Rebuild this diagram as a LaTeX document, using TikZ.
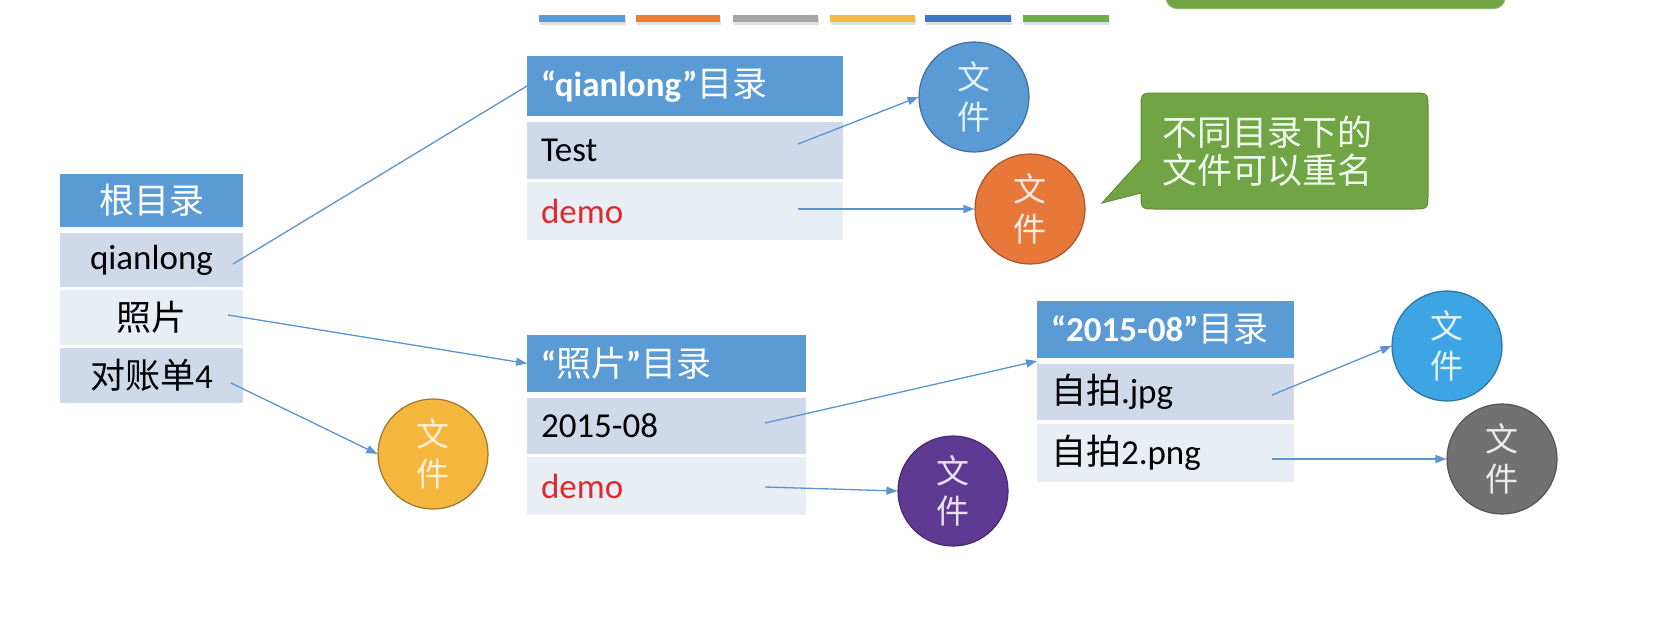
\documentclass[tikz,border=0pt]{standalone}
\usepackage{fontspec}
\setmainfont{Carlito}
\newfontfamily\cjk{Noto Sans CJK SC}
\usetikzlibrary{arrows.meta}
\definecolor{hdr}{HTML}{5B9BD5}
\definecolor{banda}{HTML}{CFD9EA}
\definecolor{bandb}{HTML}{E9EDF4}
\definecolor{conn}{HTML}{5B94CF}
\definecolor{demored}{HTML}{DE2A2E}
\definecolor{cblue}{HTML}{5B9BD5}
\definecolor{corange}{HTML}{E8773A}
\definecolor{cyellow}{HTML}{F5B63E}
\definecolor{cpurple}{HTML}{5F3A93}
\definecolor{clight}{HTML}{3DA5E4}
\definecolor{cgray}{HTML}{717171}
\definecolor{cgreen}{HTML}{70A445}
\definecolor{bar1}{HTML}{5B9BD5}
\definecolor{bar2}{HTML}{ED7D31}
\definecolor{bar3}{HTML}{A5A5A5}
\definecolor{bar4}{HTML}{F7B942}
\definecolor{bar5}{HTML}{4472C4}
\definecolor{bar6}{HTML}{70AD47}
\tikzset{
  every node/.style={font=\fontsize{35}{42}\selectfont},
  cellbox/.style={anchor=north west, inner sep=0pt, outer sep=0pt},
  hdrcell/.style={cellbox, fill=hdr, text=white, font=\fontsize{35}{42}\selectfont\bfseries},
  cella/.style={cellbox, fill=banda, text=black},
  cellb/.style={cellbox, fill=bandb, text=black},
  lefttext/.style={inner xsep=14pt, align=left},
  filec/.style={circle, minimum size=110pt, inner sep=0pt, line width=1.2pt, align=center,
    font=\cjk\fontsize{33}{40}\selectfont},
  conn/.style={draw=conn, line width=1.3pt},
  arr/.style={conn, -{Triangle[length=11pt,width=8pt]}},
}
\begin{document}
\begin{tikzpicture}[x=1pt,y=-1pt]
\useasboundingbox (0,0) rectangle (1653,635);
\fill[white] (0,0) rectangle (1653,635);
% top colour bars
\foreach \xa/\xb/\c in {539/625/bar1,636/720/bar2,733/818/bar3,830/915/bar4,925/1011/bar5,1023/1109/bar6}{
  \fill[black!12] (\xa+1,17) rectangle (\xb+1,25);
  \fill[\c] (\xa,15) rectangle (\xb,22);
}
% clipped green box at the top
\fill[cgreen, rounded corners=11pt] (1166,-40) rectangle (1505,8.5);
\draw[cgreen!80!white, line width=1pt, rounded corners=11pt] (1166,-40) rectangle (1505,8.5);

% root table
\node[hdrcell, minimum width=183pt, minimum height=53pt, font=\cjk\fontsize{35}{42}\selectfont] (hr) at (60,174) {根目录};
\node[cella, minimum width=183pt, minimum height=54pt] (rq) at (60,233) {qianlong};
\node[cellb, minimum width=183pt, minimum height=55pt] (rp) at (60,290) {\cjk 照片};
\node[cella, minimum width=183pt, minimum height=55pt] (rd) at (60,348) {{\cjk 对账单}4};

% qianlong table
\node[hdrcell, lefttext, text width=288pt, minimum height=60pt] (hq) at (527,56) {“qianlong”{\cjk\mdseries 目录}};
\node[cella, lefttext, text width=288pt, minimum height=57pt] (qt) at (527,122) {Test};
\node[cellb, lefttext, text width=288pt, minimum height=58pt, text=demored] (qd) at (527,182) {demo};

% zhaopian table
\node[hdrcell, lefttext, text width=251pt, minimum height=57pt] (hp) at (527,335) {“{\cjk\mdseries 照片}”{\cjk\mdseries 目录}};
\node[cella, lefttext, text width=251pt, minimum height=56pt] (p1) at (527,398) {2015-08};
\node[cellb, lefttext, text width=251pt, minimum height=58pt, text=demored] (pd) at (527,457) {demo};

% 2015-08 table
\node[hdrcell, lefttext, text width=229pt, minimum height=57pt] (hd) at (1037,301) {“2015-08”{\cjk\mdseries 目录}};
\node[cella, lefttext, text width=229pt, minimum height=56pt] (dj) at (1037,364) {{\cjk 自拍}.jpg};
\node[cellb, lefttext, text width=229pt, minimum height=58pt] (dp) at (1037,424) {{\cjk 自拍}2.png};

% file circles
\node[filec, fill=cblue, draw=cblue!72!black, text=white!86!cblue] (f1) at (974,97) {文\\件};
\node[filec, fill=corange, draw=corange!72!black, text=white!86!corange] (f2) at (1030,209) {文\\件};
\node[filec, fill=cyellow, draw=cyellow!65!black, text=white!80!cyellow] (f3) at (433,454) {文\\件};
\node[filec, fill=cpurple, draw=cpurple!75!black, text=white!86!cpurple] (f4) at (953,491) {文\\件};
\node[filec, fill=clight, draw=clight!70!black, text=white!86!clight] (f5) at (1447,346) {文\\件};
\node[filec, fill=cgray, draw=cgray!75!black, text=white!86!cgray] (f6) at (1502,459) {文\\件};

% callout
\filldraw[fill=cgreen, draw=cgreen!85!black, line width=1pt]
  (1141,160) -- (1141,109) .. controls (1141,93) .. (1157,93) -- (1412,93)
  .. controls (1428,93) .. (1428,109) -- (1428,193) .. controls (1428,209) .. (1412,209)
  -- (1157,209) .. controls (1141,209) .. (1141,193) -- (1102,203) -- cycle;
\node[text=white!94!green, align=left, font=\cjk\fontsize{35}{38}\selectfont] (note) at (1267,151) {不同目录下的\\文件可以重名};

% connector start points
\coordinate (s1) at (233,264);
\coordinate (s2) at (798,144);
\coordinate (s3) at (798,209);
\coordinate (s4) at (228,315);
\coordinate (s5) at (231,383);
\coordinate (s6) at (765,423);
\coordinate (s7) at (765,487);
\coordinate (s8) at (1272,395);
\coordinate (s9) at (1272,459);
\coordinate (t6) at ([yshift=-3pt]hd.south west);

\draw[conn] (s1) -- (hq.west);
\draw[arr] (s2) -- (f1.west);
\draw[arr] (s3) -- (f2.west);
\draw[arr] (s4) -- (hp.west);
\draw[arr] (s5) -- (f3.west);
\draw[arr] (s6) -- (t6);
\draw[arr] (s7) -- (f4.west);
\draw[arr] (s8) -- (f5.west);
\draw[arr] (s9) -- (f6.west);
\end{tikzpicture}
\end{document}
